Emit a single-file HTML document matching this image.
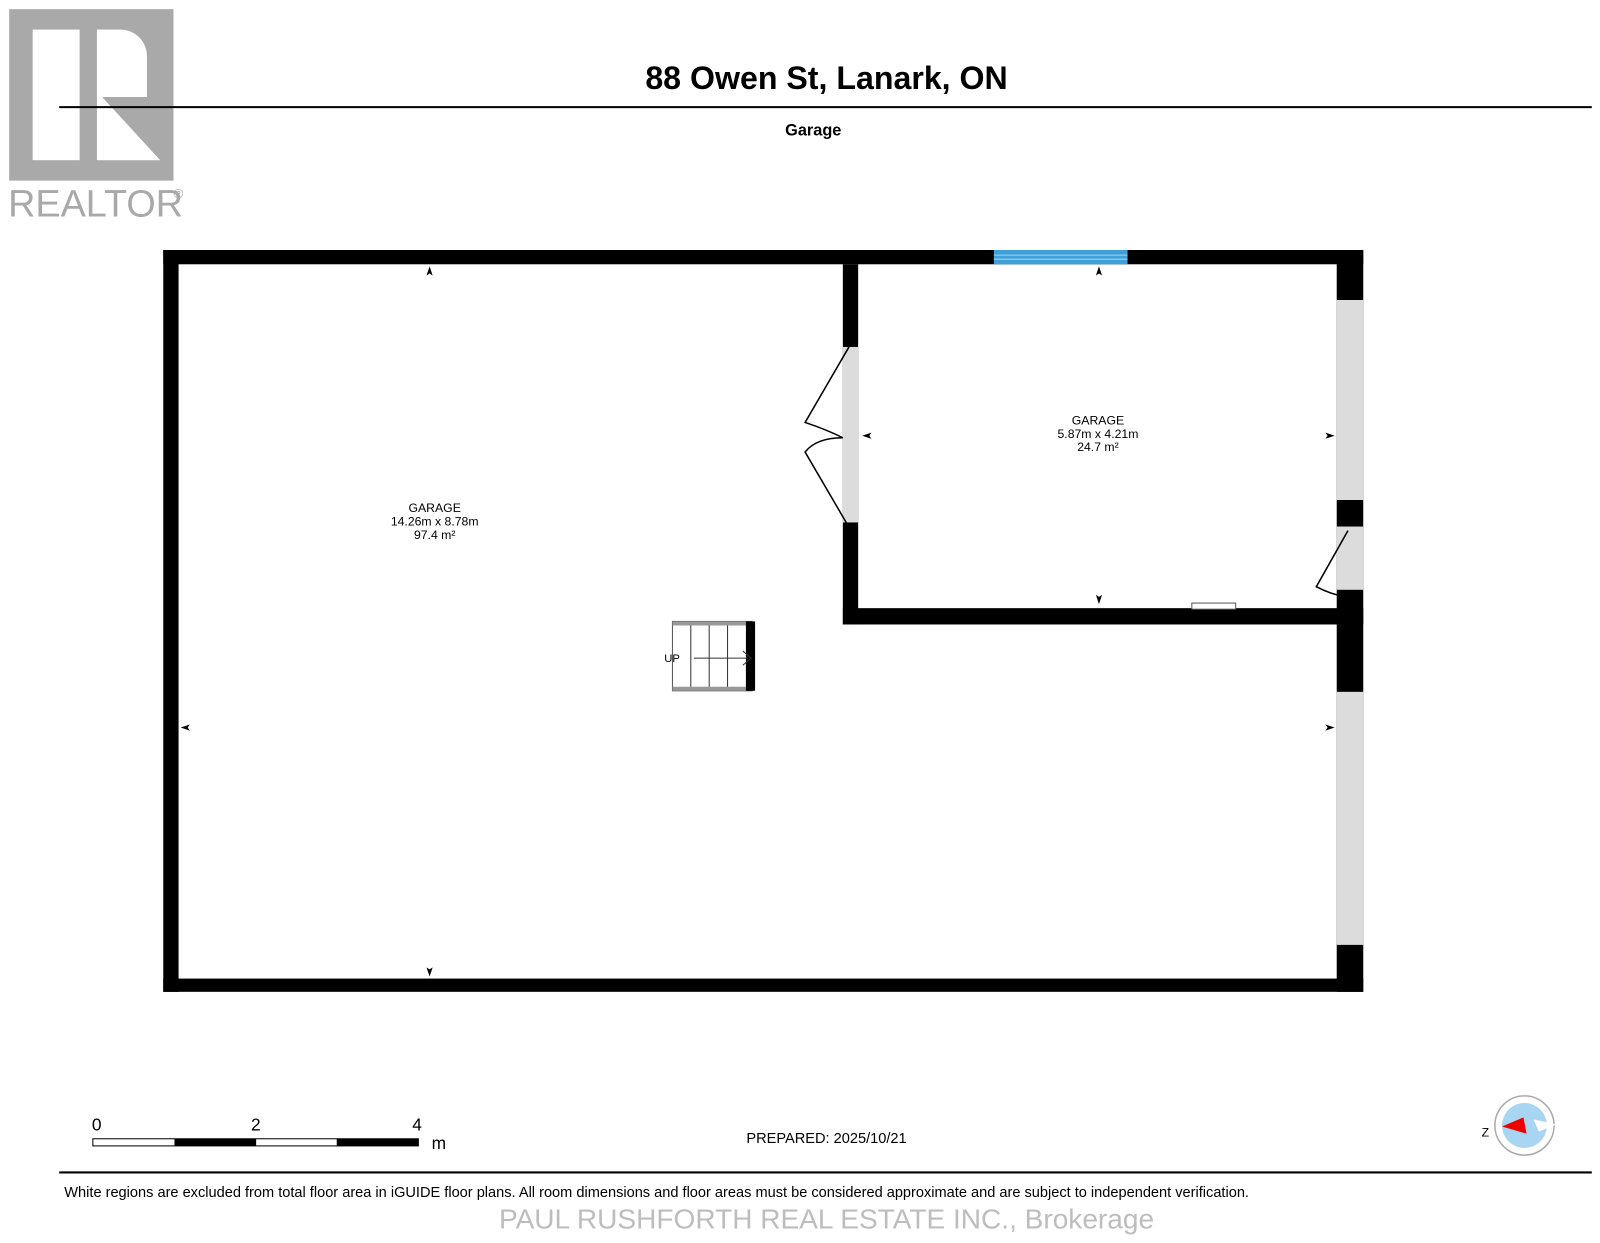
<!DOCTYPE html>
<html><head><meta charset="utf-8"><style>
html,body{margin:0;padding:0;background:#fff;}
svg{display:block;}
text{font-family:"Liberation Sans",Arial,sans-serif;}
</style></head><body>
<svg width="1600" height="1243" viewBox="0 0 1600 1243" xmlns="http://www.w3.org/2000/svg">
<rect width="1600" height="1243" fill="#fff"/>
<g transform="scale(1.0204)">
<!-- Realtor logo -->
<rect x="9" y="9" width="161" height="168" fill="#a9a9a9"/>
<rect x="32" y="29" width="46" height="128" fill="#fff"/>
<path d="M95 29 H118 A26 26 0 0 1 144 55 V95 H95 Z" fill="#fff"/>
<rect x="95" y="29" width="6" height="128" fill="#fff"/>
<path d="M101 96 L157 157 H101 Z" fill="#fff"/>
<text x="8" y="212" font-size="37" fill="#a9a9a9">REALTOR</text>
<text x="170" y="194" font-size="13" fill="#a9a9a9">®</text>
<!-- Title -->
<text x="810" y="87" font-size="31.5" font-weight="bold" text-anchor="middle" fill="#000">88 Owen St, Lanark, ON</text>
<line x1="58" y1="105" x2="1560" y2="105" stroke="#000" stroke-width="2"/>
<text x="797" y="133" font-size="16" font-weight="bold" text-anchor="middle" fill="#000">Garage</text>
<!-- walls -->
<rect x="160" y="245" width="1176" height="14" fill="#000"/>
<rect x="160" y="245" width="15" height="727" fill="#000"/>
<rect x="160" y="959" width="1176" height="13" fill="#000"/>
<rect x="1310" y="245" width="26" height="727" fill="#000"/>
<rect x="974" y="245" width="131" height="14" fill="#3e9fd9"/>
<line x1="974" y1="250" x2="1105" y2="250" stroke="#9fd3f2" stroke-width="1"/>
<line x1="974" y1="254" x2="1105" y2="254" stroke="#9fd3f2" stroke-width="1"/>
<rect x="1310" y="294" width="26" height="196" fill="#dcdcdc"/>
<rect x="1310" y="516" width="26" height="62" fill="#dcdcdc"/>
<rect x="1310" y="678" width="26" height="248" fill="#dcdcdc"/>
<rect x="826" y="259" width="15" height="353" fill="#000"/>
<rect x="826" y="596" width="510" height="16" fill="#000"/>
<rect x="826" y="340" width="15" height="172" fill="#dcdcdc"/>
<!-- doors -->
<path d="M852 347 L809 421 Q830 428 846 436 Q820 436 809 450 L851 522" fill="none" stroke="#000" stroke-width="1.5" transform="translate(-20,-7)"/>
<path d="M1351 525 L1320 580 Q1335 588 1350 590" fill="none" stroke="#000" stroke-width="1.5" transform="translate(-30,-5)"/>
<rect x="1188" y="601" width="43" height="6" fill="#fff" stroke="#555" stroke-width="1" transform="translate(-20,-10)"/>
<!-- stairs -->
<rect x="659" y="609" width="78" height="68" fill="#fff" stroke="#555" stroke-width="1"/>
<rect x="659" y="609" width="72" height="4" fill="#999"/>
<rect x="659" y="673" width="72" height="4" fill="#999"/>
<rect x="731" y="609" width="9" height="68" fill="#000"/>
<line x1="677" y1="613" x2="677" y2="673" stroke="#333"/>
<line x1="695" y1="613" x2="695" y2="673" stroke="#333"/>
<line x1="713" y1="613" x2="713" y2="673" stroke="#333"/>
<line x1="680" y1="645" x2="733" y2="645" stroke="#333"/>
<path d="M728 638 L736 645 L728 652" fill="none" stroke="#333"/>
<text x="651" y="649" font-size="11" fill="#000">UP</text>
<!-- arrowheads -->
<g fill="#000">
<path d="M421 261 l-3 9 l3 -2 l3 2z"/>
<path d="M421 957 l-3 -9 l3 2 l3 -2z"/>
<path d="M177 713 l9 -3 l-2 3 l2 3z"/>
<path d="M1308 713 l-9 -3 l2 3 l-2 3z"/>
<path d="M1077 261 l-3 9 l3 -2 l3 2z"/>
<path d="M1077 592 l-3 -9 l3 2 l3 -2z"/>
<path d="M845 427 l9 -3 l-2 3 l2 3z"/>
<path d="M1308 427 l-9 -3 l2 3 l-2 3z"/>
</g>
<!-- labels -->
<g font-size="12" text-anchor="middle" fill="#000">
<text x="426" y="502">GARAGE</text>
<text x="426" y="515">14.26m x 8.78m</text>
<text x="426" y="528">97.4 m²</text>
<text x="1076" y="416">GARAGE</text>
<text x="1076" y="429">5.87m x 4.21m</text>
<text x="1076" y="442">24.7 m²</text>
</g>
<!-- scale -->
<g font-size="17" fill="#000">
<text x="90" y="1108">0</text>
<text x="246" y="1108">2</text>
<text x="404" y="1108">4</text>
<text x="423" y="1126">m</text>
</g>
<rect x="91" y="1116" width="319" height="7" fill="#fff" stroke="#000" stroke-width="1"/>
<rect x="171" y="1116" width="80" height="7" fill="#000"/>
<rect x="330" y="1116" width="80" height="7" fill="#000"/>
<text x="810" y="1120" font-size="14.3" text-anchor="middle" fill="#000">PREPARED: 2025/10/21</text>
<!-- compass -->
<circle cx="1494" cy="1103" r="29" fill="#fff" stroke="#aaa" stroke-width="1.5"/>
<circle cx="1494" cy="1103" r="22" fill="#a8d5f2"/>
<path d="M1503 1097 L1525 1102 L1508 1109 Z" fill="#fff"/>
<path d="M1472 1104 L1493 1095 L1496 1111 Z" fill="#e00"/>
<text x="1452" y="1114" font-size="12" fill="#000">Z</text>
<!-- footer -->
<line x1="58" y1="1149" x2="1560" y2="1149" stroke="#000" stroke-width="2"/>
<text x="63" y="1173" font-size="14.3" fill="#000">White regions are excluded from total floor area in iGUIDE floor plans. All room dimensions and floor areas must be considered approximate and are subject to independent verification.</text>
<text x="810" y="1204" font-size="27.5" text-anchor="middle" fill="#bdbdbd">PAUL RUSHFORTH REAL ESTATE INC., Brokerage</text>
</g>
</svg>
</body></html>
